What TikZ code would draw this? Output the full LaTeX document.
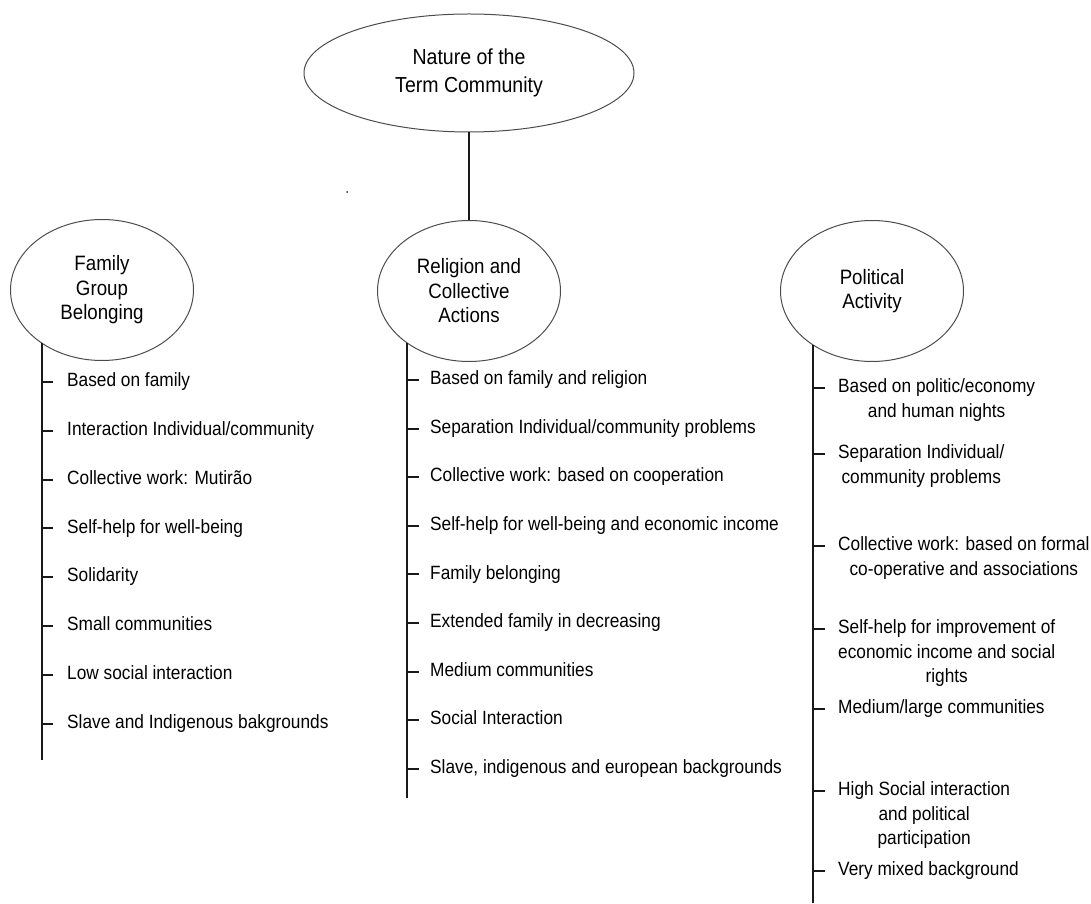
\documentclass[tikz,border=0pt]{standalone}
\usepackage{fontspec}
\setmainfont{Liberation Sans}[FakeStretch=0.9]
\usetikzlibrary{shapes.geometric}

\begin{document}
\begin{tikzpicture}[x=1pt,y=1pt,
    topic/.style={ellipse,draw=black!70,line width=1pt,inner sep=0pt,align=center,text=black},
    subtopic/.style={topic,minimum width=183pt,minimum height=141pt,font=\fontsize{20.8}{24.5}\selectfont},
    item/.style={anchor=mid west,inner sep=0pt,align=center,text=black,font=\fontsize{19.2}{24.5}\selectfont},
    bar/.style={line width=1.8pt,black!90},
    tick/.style={line width=2pt,black!90}]
    \useasboundingbox (0,0) rectangle (1091,903);
    \node[topic,minimum width=330pt,minimum height=118pt,font=\fontsize{21.7}{28}\selectfont] (nature) at (469,830) {Nature of the\\Term Community};
    \node[subtopic] (family) at (102,613) {Family\\Group\\Belonging};
    \node[subtopic] (religion) at (469,612) {Religion and\\Collective\\Actions};
    \node[subtopic] (political) at (872,612) {Political\\Activity};
    \draw[bar] (nature.south) -- (religion.north);
    \fill[black!80] (347,711) circle (1pt);
    \coordinate (famEnd) at (42,143);
    \coordinate (relEnd) at (407,105);
    \coordinate (polEnd) at (813,0);
    \draw[bar] (family.221 -| famEnd) -- (famEnd);
    \draw[bar] (religion.220 -| relEnd) -- (relEnd);
    \draw[bar] (political.222 -| polEnd) -- (polEnd);
    \foreach \txt [count=\i from 0] in {Based on family, Interaction Individual/community,
        Collective work: Mutirão, Self-help for well-being, Solidarity, Small communities,
        Low social interaction, Slave and Indigenous bakgrounds}{
      \node[item] (fam-\i) at (67,519-48.8*\i) {\txt};
      \draw[tick] (famEnd |- fam-\i.mid west) ++(0,2) -- ++(11,0);
    }
    \foreach \txt [count=\i from 0] in {Based on family and religion,
        Separation Individual/community problems, Collective work: based on cooperation,
        Self-help for well-being and economic income, Family belonging,
        Extended family in decreasing, Medium communities, Social Interaction,
        {Slave, indigenous and european backgrounds}}{
      \node[item] (rel-\i) at (430,521-48.6*\i) {\txt};
      \draw[tick] (relEnd |- rel-\i.mid west) ++(0,2) -- ++(12,0);
    }
    % multi-line items sit on their last line
    \node[item] (pol-1) at (838,513-24.5) {Based on politic/economy\\and human nights};
    \node[item] (pol-2) at (838,447-24.5) {Separation Individual/\\community problems};
    \node[item] (pol-3) at (838,355-24.5) {Collective work: based on formal\\co-operative and associations};
    \node[item] (pol-4) at (838,272-49) {Self-help for improvement of\\economic income and social\\rights};
    \node[item] (pol-5) at (838,192) {Medium/large communities};
    \node[item] (pol-6) at (838,110-49) {High Social interaction\\and political\\participation};
    \node[item] (pol-7) at (838,30) {Very mixed background};
    \foreach \i/\n in {1/1,2/1,3/1,4/2,5/0,6/2,7/0}
      \draw[tick] (polEnd |- pol-\i.mid west) ++(0,24.5*\n+2) -- ++(12,0);
\end{tikzpicture}
\end{document}
